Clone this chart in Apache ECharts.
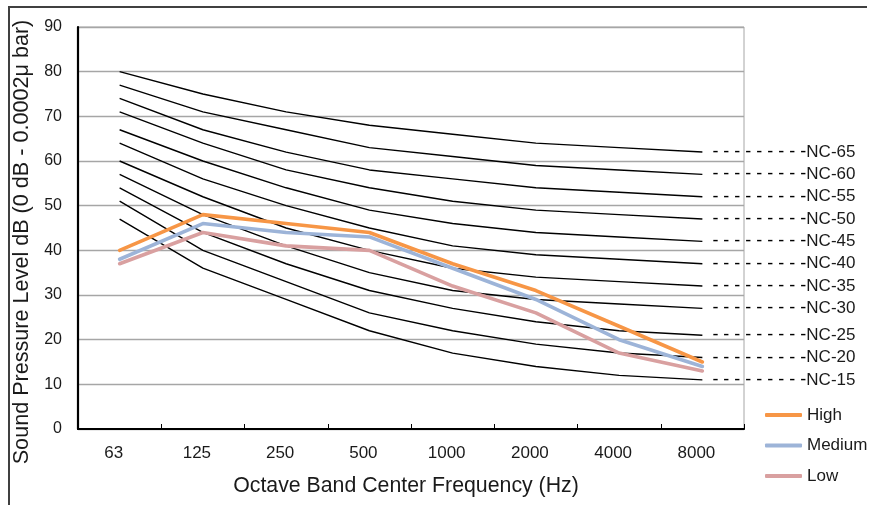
<!DOCTYPE html>
<html>
<head>
<meta charset="utf-8">
<script src="https://cdn.jsdelivr.net/npm/echarts@6/dist/echarts.min.js"></script>
<style>
html,body{margin:0;padding:0;background:#fff;}
#chart{width:875px;height:505px;}
</style>
</head>
<body>
<div id="chart"></div>
<script>
var categories = ['63', '125', '250', '500', '1000', '2000', '4000', '8000'];
var yTicks = { min: 0, max: 90, interval: 10 };

var ncNames = ['NC-65', 'NC-60', 'NC-55', 'NC-50', 'NC-45', 'NC-40', 'NC-35', 'NC-30', 'NC-25', 'NC-20', 'NC-15'];
var nc65 = [80, 75, 71, 68, 66, 64, 63, 62];
var nc60 = [77, 71, 67, 63, 61, 59, 58, 57];
var nc55 = [74, 67, 62, 58, 56, 54, 53, 52];
var nc50 = [71, 64, 58, 54, 51, 49, 48, 47];
var nc45 = [67, 60, 54, 49, 46, 44, 43, 42];
var nc40 = [64, 56, 50, 45, 41, 39, 38, 37];
var nc35 = [60, 52, 45, 40, 36, 34, 33, 32];
var nc30 = [57, 48, 41, 35, 31, 29, 28, 27];
var nc25 = [54, 44, 37, 31, 27, 24, 22, 21];
var nc20 = [51, 40, 33, 26, 22, 19, 17, 16];
var nc15 = [47, 36, 29, 22, 17, 14, 12, 11];
var ncValues = [nc65, nc60, nc55, nc50, nc45, nc40, nc35, nc30, nc25, nc20, nc15];

var seriesNames = ['High', 'Medium', 'Low'];
var high = [40, 48, 46, 44, 37, 31, 23, 15];
var medium = [38, 46, 44, 43, 36, 29, 20, 14];
var low = [37, 44, 41, 40, 32, 26, 17, 13];
var seriesValues = [high, medium, low];
var seriesColors = ['#F79646', '#9DB4D8', '#D9A0A0'];

var FONT = '"Liberation Sans", Arial, sans-serif';

var series = [];
ncNames.forEach(function (name, i) {
  series.push({
    name: name,
    type: 'line',
    data: ncValues[i],
    symbol: 'none',
    silent: true,
    z: 2,
    lineStyle: { color: '#000', width: 1.4 },
    endLabel: {
      show: true,
      distance: 10,
      formatter: function () { return '{d|- - - - - - - - -}{t|' + name + '}'; },
      rich: {
        d: { fontSize: 18, color: '#000', fontFamily: FONT },
        t: { fontSize: 17, color: '#1a1a1a', fontFamily: FONT }
      }
    },
    labelLayout: { hideOverlap: false }
  });
});
seriesNames.forEach(function (name, i) {
  series.push({
    name: name,
    type: 'line',
    data: seriesValues[i],
    symbol: 'none',
    z: 5,
    color: seriesColors[i],
    lineStyle: { color: seriesColors[i], width: 3.6, cap: 'round', join: 'round' }
  });
});

var chart = echarts.init(document.getElementById('chart'), null, { renderer: 'canvas' });
chart.setOption({
  animation: false,
  backgroundColor: '#fff',
  textStyle: { fontFamily: FONT },
  grid: {
    left: 78, right: 131, top: 27, bottom: 76,
    show: true, borderColor: '#A6A6A6', borderWidth: 1, backgroundColor: 'transparent'
  },
  legend: {
    orient: 'vertical',
    left: 765,
    top: 405,
    padding: 0,
    itemWidth: 37,
    itemHeight: 4,
    itemGap: 10.5,
    icon: 'roundRect',
    data: seriesNames,
    textStyle: { fontSize: 17, color: '#1a1a1a', lineHeight: 20, fontFamily: FONT }
  },
  xAxis: {
    type: 'category',
    data: categories,
    boundaryGap: true,
    name: 'Octave Band Center Frequency (Hz)',
    nameLocation: 'middle',
    nameGap: 47,
    nameTextStyle: { fontSize: 21.3, color: '#1a1a1a', fontFamily: FONT, padding: [0, 10, 0, 0] },
    axisLine: { show: true, lineStyle: { color: '#000', width: 2.2 } },
    axisTick: { show: true, inside: true, length: 5, lineStyle: { color: '#000', width: 1 } },
    axisLabel: { fontSize: 17, color: '#1a1a1a', margin: 16, padding: [0, 12, 0, 0], fontFamily: FONT },
    splitLine: { show: false }
  },
  yAxis: {
    type: 'value',
    min: yTicks.min, max: yTicks.max, interval: yTicks.interval,
    name: 'Sound Pressure Level dB (0 dB - 0.0002\u03bc bar)',
    nameLocation: 'middle',
    nameGap: 40,
    nameTextStyle: { fontSize: 21.6, color: '#1a1a1a', fontFamily: FONT, padding: [0, 28, 0, 0] },
    axisLine: { show: true, lineStyle: { color: '#000', width: 2.2 } },
    axisTick: { show: false },
    axisLabel: { fontSize: 16, color: '#1a1a1a', margin: 16, fontFamily: FONT },
    splitLine: { show: true, lineStyle: { color: '#A6A6A6', width: 1.3 } }
  },
  graphic: [{
    type: 'polyline',
    silent: true,
    shape: { points: [[9, 505], [9, 7], [867, 7]] },
    style: { stroke: '#404040', lineWidth: 2, fill: null }
  }],
  series: series
});
</script>
</body>
</html>
